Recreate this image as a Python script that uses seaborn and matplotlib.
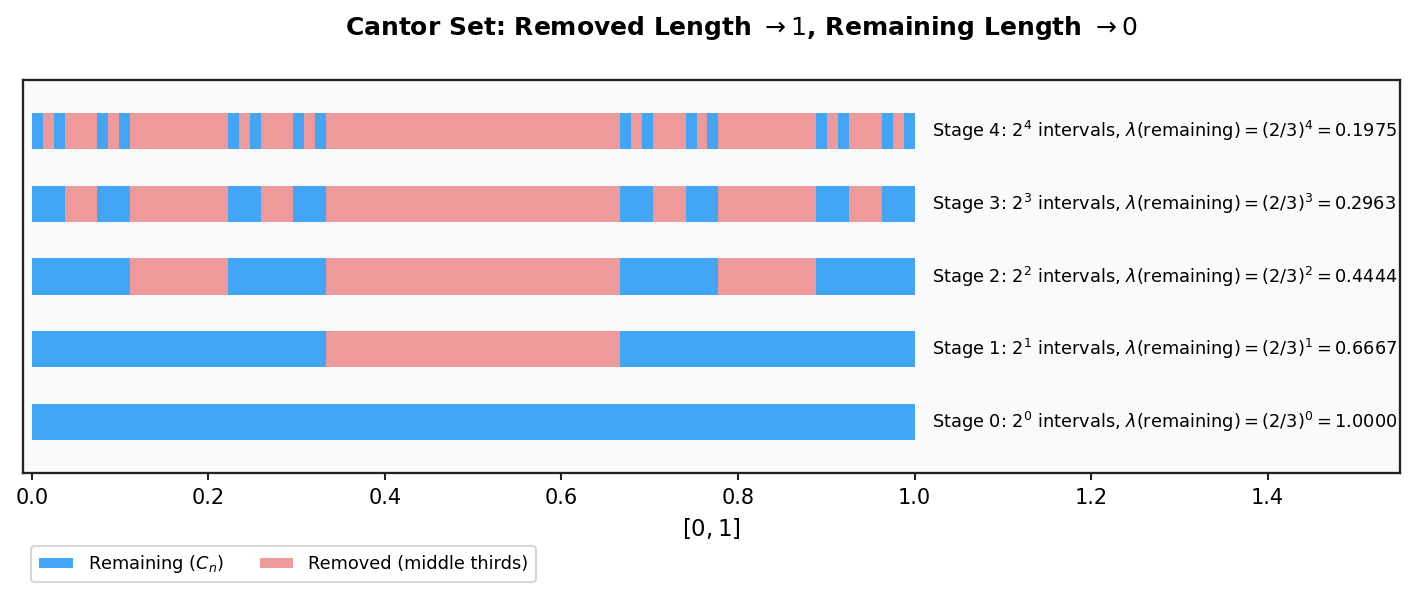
import matplotlib
matplotlib.use("Agg")
import matplotlib.pyplot as plt
import seaborn as sns
import pandas as pd
from matplotlib.patches import Patch

# Data: remaining interval starts (in units of 1/81) per stage, with interval length
stages = [0, 1, 2, 3, 4]
remaining_starts_81 = {
    0: [0],
    1: [0, 54],
    2: [0, 18, 54, 72],
    3: [0, 6, 18, 24, 54, 60, 72, 78],
    4: [0, 2, 6, 8, 18, 20, 24, 26, 54, 56, 60, 62, 72, 74, 78, 80],
}
remaining_len_81 = {0: 81, 1: 27, 2: 9, 3: 3, 4: 1}
removed_81 = {
    0: [],
    1: [(27, 54)],
    2: [(9, 18), (27, 54), (63, 72)],
    3: [(3, 6), (9, 18), (21, 24), (27, 54), (57, 60), (63, 72), (75, 78)],
    4: [(1, 2), (3, 6), (7, 8), (9, 18), (19, 20), (21, 24), (25, 26), (27, 54),
        (55, 56), (57, 60), (61, 62), (63, 72), (73, 74), (75, 78), (79, 80)],
}
labels = [
    r"Stage 0: $2^{0}$ intervals, $\lambda(\mathrm{remaining}) = (2/3)^{0} = 1.0000$",
    r"Stage 1: $2^{1}$ intervals, $\lambda(\mathrm{remaining}) = (2/3)^{1} = 0.6667$",
    r"Stage 2: $2^{2}$ intervals, $\lambda(\mathrm{remaining}) = (2/3)^{2} = 0.4444$",
    r"Stage 3: $2^{3}$ intervals, $\lambda(\mathrm{remaining}) = (2/3)^{3} = 0.2963$",
    r"Stage 4: $2^{4}$ intervals, $\lambda(\mathrm{remaining}) = (2/3)^{4} = 0.1975$",
]

BLUE = "#42a5f5"
RED = "#ef9a9a"

rows = []
for s in stages:
    for st in remaining_starts_81[s]:
        rows.append(dict(stage=s, left=st / 81, width=remaining_len_81[s] / 81, kind="remaining"))
    for a, b in removed_81[s]:
        rows.append(dict(stage=s, left=a / 81, width=(b - a) / 81, kind="removed"))
df = pd.DataFrame(rows)

sns.set_theme(style="ticks")
plt.rcParams["font.family"] = ["DejaVu Sans"]
plt.rcParams.update({"text.color": "black", "axes.labelcolor": "black",
                     "xtick.color": "black", "ytick.color": "black"})

fig = plt.figure(figsize=(1415 / 150, 597 / 150), dpi=150)
ax = fig.add_axes([23 / 1415, 1 - 473 / 597, (1400 - 23) / 1415, (473 - 80) / 597])
ax.set_facecolor("#fafafa")

for kind, color in [("removed", RED), ("remaining", BLUE)]:
    sub = df[df.kind == kind]
    ax.barh(sub["stage"], sub["width"], left=sub["left"], height=0.5,
            color=color, edgecolor="none", linewidth=0)

for s in stages:
    ax.text(1.02, s, labels[s], va="center", ha="left", fontsize=8.5, color="black")

ax.set_xlim(-0.01, 1.55)
ax.set_ylim(-0.7, 4.7)
ax.set_yticks([])
ax.set_xticks([0.0, 0.2, 0.4, 0.6, 0.8, 1.0, 1.2, 1.4])
ax.tick_params(axis="x", labelsize=10, length=3.5, width=1, color="#222222", labelcolor="black")
for sp in ax.spines.values():
    sp.set_visible(True)
    sp.set_color("#222222")
    sp.set_linewidth(1.1)
ax.set_xlabel(r"$[0, 1]$", fontsize=11, labelpad=4, color="black")

fig.text(741 / 1415, 1 - 28 / 597,
         r"Cantor Set: Removed Length $\to 1$, Remaining Length $\to 0$",
         ha="center", va="center", fontsize=12, fontweight="bold", color="black")

handles = [Patch(facecolor=BLUE, label=r"Remaining ($C_n$)"),
           Patch(facecolor=RED, label="Removed (middle thirds)")]
leg = fig.legend(handles=handles, loc="upper left", bbox_to_anchor=(31 / 1415, 1 - 546 / 597),
                 ncol=2, fontsize=8.5, frameon=True, borderaxespad=0, columnspacing=2.0)
for t in leg.get_texts():
    t.set_color("black")

fig.savefig("out.png", dpi=150)
